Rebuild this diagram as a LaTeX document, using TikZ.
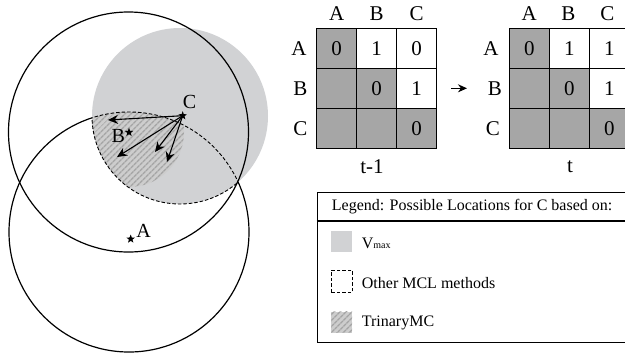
\documentclass[tikz,border=0pt]{standalone}
\usepackage{fontspec}
\setmainfont{Liberation Serif}
\usetikzlibrary{shapes.geometric,arrows.meta,patterns.meta}
\definecolor{vmaxgray}{HTML}{D1D2D4}
\definecolor{cellgray}{HTML}{A6A6A6}
\definecolor{hatchbase}{HTML}{CDCDCD}
\definecolor{hatchline}{HTML}{A4A4A4}
\tikzset{
  ring/.style={draw=black, line width=1.2pt},
  bound/.style={draw=black, line width=0.9pt, dash pattern=on 3.5pt off 2pt},
  trinary/.style={preaction={fill=hatchbase},
    pattern={Lines[angle=45,distance=4pt,line width=1.5pt]}, pattern color=hatchline},
  anchorpt/.style={star, star points=5, star point ratio=2.4, fill=black,
    inner sep=0pt, minimum size=9pt},
  ptlabel/.style={font=\fontsize{20}{20}\selectfont, inner sep=0pt},
  move/.style={draw=black, line width=1.1pt, -{Stealth[length=10pt,width=9pt]}},
  cell/.style={draw=black, line width=1pt, minimum size=40pt, inner sep=0pt,
    font=\fontsize{21}{21}\selectfont},
  hdr/.style={inner sep=0pt, font=\fontsize{21}{21}\selectfont},
  legtext/.style={anchor=base west, inner sep=0pt, font=\fontsize{16}{16}\selectfont},
  swatch/.style={minimum width=21pt, minimum height=21pt, inner sep=0pt, anchor=north west},
}
\begin{document}
\begin{tikzpicture}[x=1pt,y=-1pt]
\useasboundingbox (0,0) rectangle (625,359);

% ---- circles around the anchors ----
\coordinate (lowctr) at (129,232);
\coordinate (upctr) at (128.5,132);
\coordinate (vctr) at (180,116);
\coordinate (bctr) at (129,132);

\draw[ring] (lowctr) circle[radius=120pt];
\fill[vmaxgray] (vctr) circle[radius=88pt];
\begin{scope}
  \clip (lowctr) circle[radius=120pt];
  \clip (vctr) circle[radius=88pt];
  \path[trinary] (bctr) circle[radius=55pt];
\end{scope}
\begin{scope}
  \clip (lowctr) circle[radius=120pt];
  \draw[bound] (vctr) circle[radius=88pt];
\end{scope}
\begin{scope}
  \clip (vctr) circle[radius=88pt];
  \draw[bound] (lowctr) circle[radius=120pt];
\end{scope}
\draw[ring] (upctr) circle[radius=120pt];

% ---- anchors and labels ----
\node[anchorpt] (A) at (130.7,239) {};
\node[anchorpt] (B) at (129,132.3) {};
\node[anchorpt] (C) at (182.7,115.7) {};
\node[ptlabel, anchor=base] (Alab) at (143.5,237) {A};
\node[ptlabel, anchor=base] (Blab) at (118.3,142) {B};
\node[ptlabel, anchor=base] (Clab) at (189.5,108.5) {C};

% ---- candidate moves of C ----
\coordinate (m1) at (108,120);
\coordinate (m2) at (117,157);
\coordinate (m3) at (155,152);
\coordinate (m4) at (167,162);
\foreach \t in {m1,m2,m3,m4} \draw[move] (C.center) -- (\t);

% ---- matrix at t-1 ----
\node[cell, fill=cellgray] (pAA) at (336.7,48.3) {0};
\node[cell, fill=white]    (pAB) at (376.7,48.3) {1};
\node[cell, fill=white]    (pAC) at (416.7,48.3) {0};
\node[cell, fill=cellgray] (pBA) at (336.7,88.3) {};
\node[cell, fill=cellgray] (pBB) at (376.7,88.3) {0};
\node[cell, fill=white]    (pBC) at (416.7,88.3) {1};
\node[cell, fill=cellgray] (pCA) at (336.7,128.3) {};
\node[cell, fill=cellgray] (pCB) at (376.7,128.3) {};
\node[cell, fill=cellgray] (pCC) at (416.7,128.3) {0};
\node[hdr] (pcA) at (336.7,13.5) {A};
\node[hdr] (pcB) at (376.7,13.5) {B};
\node[hdr] (pcC) at (416.7,13.5) {C};
\node[hdr] (prA) at (299,48.3) {A};
\node[hdr] (prB) at (300.5,88.3) {B};
\node[hdr] (prC) at (300.5,128.3) {C};
\node[hdr] (ptime) at (372,167) {t-1};

% ---- matrix at t ----
\node[cell, fill=cellgray] (nAA) at (529.3,48.3) {0};
\node[cell, fill=white]    (nAB) at (569.3,48.3) {1};
\node[cell, fill=white]    (nAC) at (609.3,48.3) {1};
\node[cell, fill=cellgray] (nBA) at (529.3,88.3) {};
\node[cell, fill=cellgray] (nBB) at (569.3,88.3) {0};
\node[cell, fill=white]    (nBC) at (609.3,88.3) {1};
\node[cell, fill=cellgray] (nCA) at (529.3,128.3) {};
\node[cell, fill=cellgray] (nCB) at (569.3,128.3) {};
\node[cell, fill=cellgray] (nCC) at (609.3,128.3) {0};
\node[hdr] (ncA) at (529.3,13.5) {A};
\node[hdr] (ncB) at (568.5,13.5) {B};
\node[hdr] (ncC) at (607.5,13.5) {C};
\node[hdr] (nrA) at (491,48.3) {A};
\node[hdr] (nrB) at (495,88.3) {B};
\node[hdr] (nrC) at (493,128.3) {C};
\node[hdr] (ntime) at (570,167) {t};

\coordinate (stepfrom) at (451,88.3);
\coordinate (stepto) at (467,88.3);
\draw[line width=1.2pt, -{Stealth[length=9pt,width=8pt]}] (stepfrom) -- (stepto);

% ---- legend ----
\node[draw=black, line width=1pt, minimum width=313pt, minimum height=150pt,
      anchor=north west, inner sep=0pt] (legend) at (316.7,192) {};
\draw[line width=1.8pt] (legend.north west |- 0,221) -- (legend.north east |- 0,221);
\node[legtext] (legtitle) at (331.7,210.5) {Legend: Possible Locations for C based on:};
\node[swatch, fill=vmaxgray] (sw1) at (331,231) {};
\node[swatch, bound, minimum height=22pt] (sw2) at (331,270) {};
\node[swatch, trinary] (sw3) at (331,311.5) {};
\node[legtext] (lt1) at (361.7,248) {V\raisebox{-0.5pt}{\fontsize{10}{10}\selectfont max}};
\node[legtext] (lt2) at (361.7,288) {Other MCL methods};
\node[legtext] (lt3) at (361.7,326.5) {TrinaryMC};
\end{tikzpicture}
\end{document}
